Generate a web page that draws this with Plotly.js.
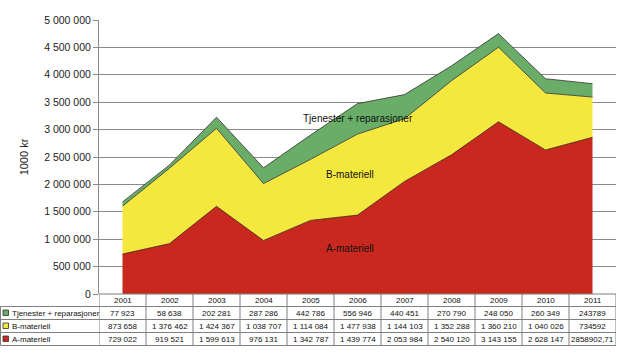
<!DOCTYPE html>
<html><head><meta charset="utf-8">
<script src="https://cdn.plot.ly/plotly-3.0.1.min.js"></script>
<style>html,body{margin:0;padding:0;background:#fff}#chart{width:620px;height:362px}</style>
</head><body><div id="chart"></div>
<script>
const years = ['2001','2002','2003','2004','2005','2006','2007','2008','2009','2010','2011'];
const seriesNames = ['Tjenester + reparasjoner','B-materiell','A-materiell'];
const tjenester = [77923,58638,202281,287286,442786,556946,440451,270790,248050,260349,243789];
const bMateriell = [873658,1376462,1424367,1038707,1114084,1477938,1144103,1352288,1360210,1040026,734592];
const aMateriell = [729022,919521,1599613,976131,1342787,1439774,2053984,2540120,3143155,2628147,2858902.71];
const tjenesterLabels = ['77 923','58 638','202 281','287 286','442 786','556 946','440 451','270 790','248 050','260 349','243789'];
const bLabels = ['873 658','1 376 462','1 424 367','1 038 707','1 114 084','1 477 938','1 144 103','1 352 288','1 360 210','1 040 026','734592'];
const aLabels = ['729 022','919 521','1 599 613','976 131','1 342 787','1 439 774','2 053 984','2 540 120','3 143 155','2 628 147','2858902,71'];
const colors = {a:'#C8281E', b:'#F4E83E', t:'#69AD69'};

const xs = years.map((_,i)=>i);
const traces = [
  {x:xs, y:aMateriell, name:'A-materiell', stackgroup:'one', mode:'lines', fillcolor:colors.a, line:{color:'#3a1a10', width:0.8}, hoverinfo:'skip'},
  {x:xs, y:bMateriell, name:'B-materiell', stackgroup:'one', mode:'lines', fillcolor:colors.b, line:{color:'#333', width:0.8}, hoverinfo:'skip'},
  {x:xs, y:tjenester, name:'Tjenester + reparasjoner', stackgroup:'one', mode:'lines', fillcolor:colors.t, line:{color:'#333', width:0.8}, hoverinfo:'skip'}
];

// geometry (pixel -> paper)
const L=99, R=4, T=20, B=68, W=620, H=362;
const pw=W-L-R, ph=H-T-B;
const py = p => (H-B-p)/ph;   // pixel y -> paper y
const px = p => (p-L)/pw;     // pixel x -> paper x
const rowEdges = [294, 306.5, 319.5, 332.5, 345.5];

const shapes = [];
const annotations = [];
const gridCol = '#7f7f7f';
const tfont = {family:'Liberation Sans, Arial', size:8, color:'#111'};
rowEdges.forEach((e,k)=>{
  shapes.push({type:'line', xref:'paper', yref:'paper', x0: k===0? 0 : px(0.5), x1:1, y0:py(e), y1:py(e), line:{color:gridCol,width:1}});
});
for(let i=0;i<=years.length;i++){
  shapes.push({type:'line', xref:'x', yref:'paper', x0:i-0.5, x1:i-0.5, y0:py(rowEdges[0]), y1:py(rowEdges[4]), line:{color:gridCol,width:1}});
}
shapes.push({type:'line', xref:'paper', yref:'paper', x0:px(0.5), x1:px(0.5), y0:py(rowEdges[1]), y1:py(rowEdges[4]), line:{color:gridCol,width:1}});

const rows = [
  {labels:years},
  {labels:tjenesterLabels, name:seriesNames[0], color:colors.t},
  {labels:bLabels, name:seriesNames[1], color:colors.b},
  {labels:aLabels, name:seriesNames[2], color:colors.a}
];
rows.forEach((r,k)=>{
  const pyc=(rowEdges[k]+rowEdges[k+1])/2;
  const yc = py(pyc);
  r.labels.forEach((t,i)=>{
    annotations.push({xref:'x', yref:'paper', x:i, y:yc, text:t, showarrow:false, font:tfont, xanchor:'center', yanchor:'middle'});
  });
  if(r.name){
    shapes.push({type:'rect', xref:'paper', yref:'paper', x0:px(3), x1:px(8.5), y0:py(pyc-3), y1:py(pyc+2.5), fillcolor:r.color, line:{color:'#333',width:0.8}});
    annotations.push({xref:'paper', yref:'paper', x:px(10), y:yc, text:r.name, showarrow:false, font:tfont, xanchor:'left', yanchor:'middle'});
  }
});

const afont = {family:'Liberation Sans, Arial', size:10, color:'#111'};
annotations.push({xref:'paper', yref:'paper', x:px(358), y:py(119), text:seriesNames[0], showarrow:false, font:afont});
annotations.push({xref:'paper', yref:'paper', x:px(350), y:py(174), text:seriesNames[1], showarrow:false, font:afont});
annotations.push({xref:'paper', yref:'paper', x:px(350), y:py(256), text:seriesNames[2], showarrow:false, font:afont});

const layout = {
  width:W, height:H,
  margin:{l:L, r:R, t:T, b:B, pad:0},
  paper_bgcolor:'#fff', plot_bgcolor:'#fff',
  separators:', ',
  showlegend:false,
  font:{family:'Liberation Sans, Arial', size:11, color:'#222'},
  xaxis:{range:[-0.5,10.5], showticklabels:false, showgrid:false, zeroline:false, showline:false, ticks:'', fixedrange:true},
  yaxis:{range:[0,5000000], dtick:500000, tickformat:',d', showgrid:true, gridcolor:'#8a8a8a', gridwidth:1, zeroline:false,
         showline:true, linecolor:'#8a8a8a', linewidth:1, ticks:'outside', ticklen:5, tickcolor:'#8a8a8a',
         tickfont:{size:10.5, color:'#222'}, title:{text:'1000 kr', font:{size:11, color:'#222'}, standoff:13}},
  shapes:shapes, annotations:annotations
};
Plotly.newPlot('chart', traces, layout, {staticPlot:true, displayModeBar:false});
</script></body></html>
